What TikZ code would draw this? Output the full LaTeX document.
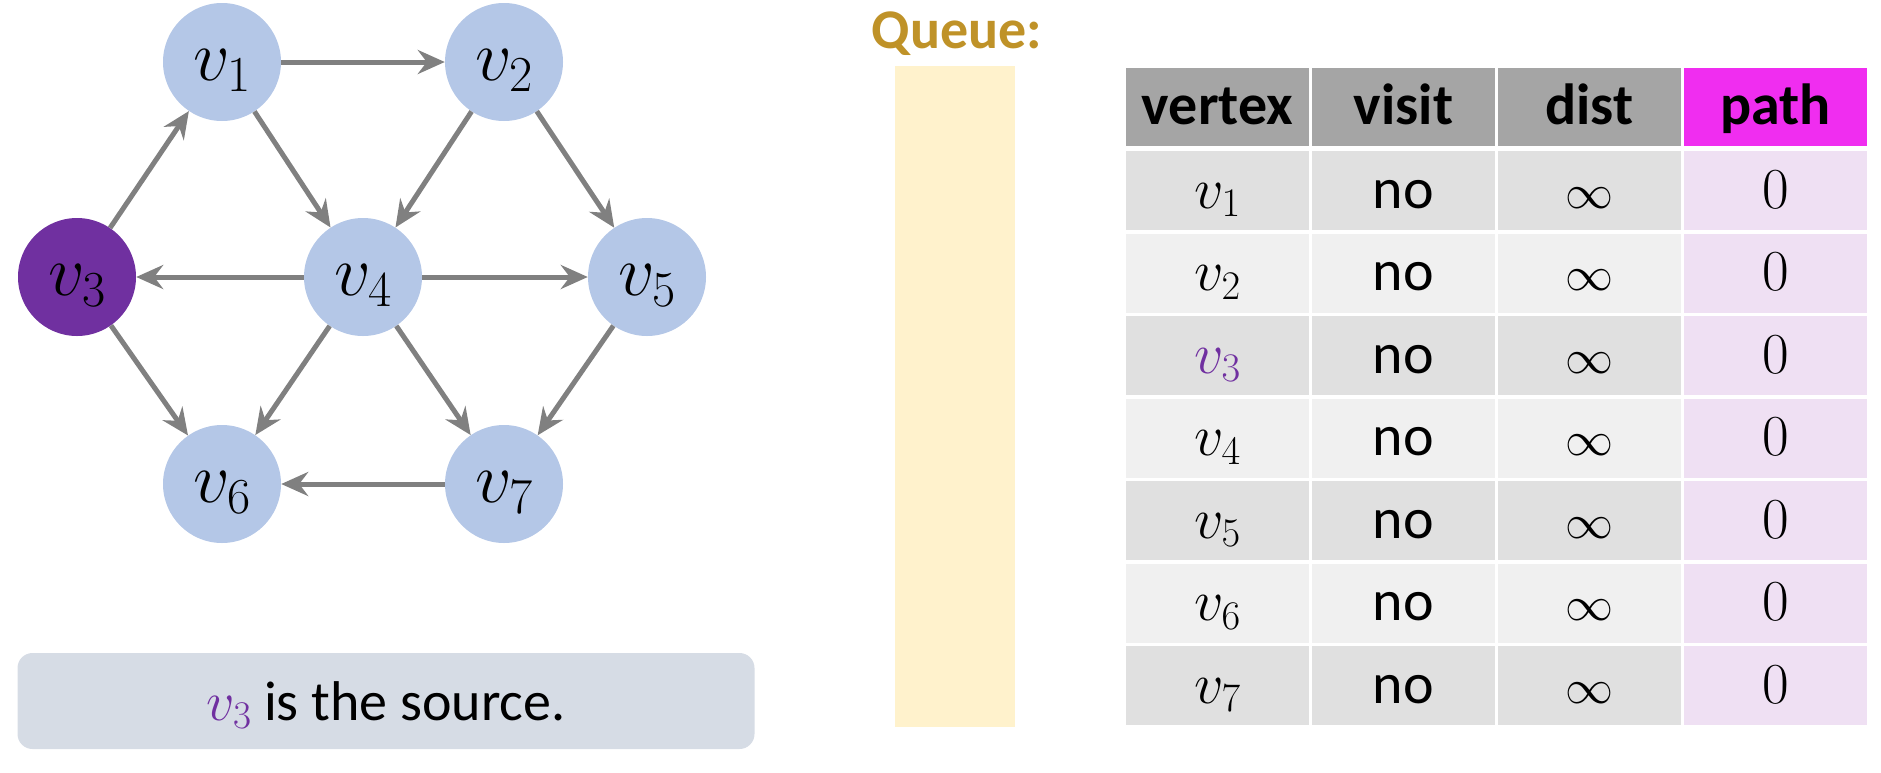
\RequirePackage{fix-cm}
\documentclass[tikz,border=0pt]{standalone}
\usepackage[no-math]{fontspec}
\setmainfont{Carlito}
\usepackage{xcolor}
\usetikzlibrary{arrows.meta}

\definecolor{vblue}{HTML}{B4C7E7}
\definecolor{vpurple}{HTML}{7030A0}
\definecolor{edgegray}{HTML}{808080}
\definecolor{headgray}{HTML}{A5A5A5}
\definecolor{pathmagenta}{RGB}{240,45,240}
\definecolor{rowdark}{HTML}{E0E0E0}
\definecolor{rowlight}{HTML}{F0F0F0}
\definecolor{pathpink}{HTML}{EFE0F3}
\definecolor{queueyellow}{HTML}{FFF2CC}
\definecolor{queuegold}{RGB}{191,146,40}
\definecolor{capgray}{HTML}{D6DCE5}

\begin{document}
\begin{tikzpicture}[x=1pt, y=-1pt,
    vertex/.style={circle, fill=vblue, minimum size=118pt, inner sep=0pt,
      text height=50pt, text depth=13pt, font=\fontsize{72}{80}\selectfont},
    edge/.style={-{Stealth[length=27pt,width=24pt,inset=9pt]}, line width=5pt, edgegray},
    cell/.style={minimum width=183pt, minimum height=79pt, inner sep=0pt,
      text height=52pt, text depth=17pt, font=\fontsize{58}{64}\selectfont}]
    \useasboundingbox (0,0) rectangle (1881,772);

    % Graph
    \node [vertex] (v1) at (222,62) {$v_1$};
    \node [vertex] (v2) at (504,62) {$v_2$};
    \node [vertex, fill=vpurple] (v3) at (77,277) {$v_3$};
    \node [vertex] (v4) at (363,277) {$v_4$};
    \node [vertex] (v5) at (647,277) {$v_5$};
    \node [vertex] (v6) at (222,484) {$v_6$};
    \node [vertex] (v7) at (504,484) {$v_7$};
    \foreach \a/\b in {v1/v2, v1/v4, v2/v4, v2/v5, v3/v1, v4/v3,
                       v4/v5, v3/v6, v4/v6, v4/v7, v5/v7, v7/v6}
        \draw [edge] (\a) -- (\b);

    % Source note
    \node [fill=capgray, rounded corners=15pt, minimum width=737pt, minimum height=96pt,
           text height=50pt, text depth=12pt, font=\fontsize{56}{62}\selectfont]
        (source) at (386,701) {\textcolor{vpurple}{$v_3$} is the source.};

    % Queue
    \node [anchor=base, text=queuegold, font=\bfseries\fontsize{56}{62}\selectfont]
        (qlabel) at (957,48) {Queue:};
    \node [fill=queueyellow, minimum width=120pt, minimum height=661pt, inner sep=0pt]
        (queue) at (955,396.5) {};

    % Table header
    \foreach \t [count=\c] in {vertex, visit, dist}
        \node [cell, minimum height=78pt, fill=headgray, font=\bfseries\fontsize{58}{64}\selectfont]
            (h\c) at ({1217.5+186*(\c-1)},107) {\t};
    \node [cell, minimum height=78pt, fill=pathmagenta, font=\bfseries\fontsize{58}{64}\selectfont]
        (h4) at (1775.5,107) {path};

    % Table rows
    \foreach \r/\shade/\vcol in {1/rowdark/black, 2/rowlight/black, 3/rowdark/vpurple,
                                 4/rowlight/black, 5/rowdark/black, 6/rowlight/black, 7/rowdark/black} {
        \node [cell, fill=\shade] (c\r-1) at (1217.5,{190.5+82.5*(\r-1)}) {\textcolor{\vcol}{$v_\r$}};
        \node [cell, fill=\shade] (c\r-2) at (1403.5,{190.5+82.5*(\r-1)}) {no};
        \node [cell, fill=\shade, font=\fontsize{48}{56}\selectfont]
            (c\r-3) at (1589.5,{190.5+82.5*(\r-1)}) {$\infty$};
        \node [cell, fill=pathpink] (c\r-4) at (1775.5,{190.5+82.5*(\r-1)}) {$0$};
    }
\end{tikzpicture}
\end{document}
